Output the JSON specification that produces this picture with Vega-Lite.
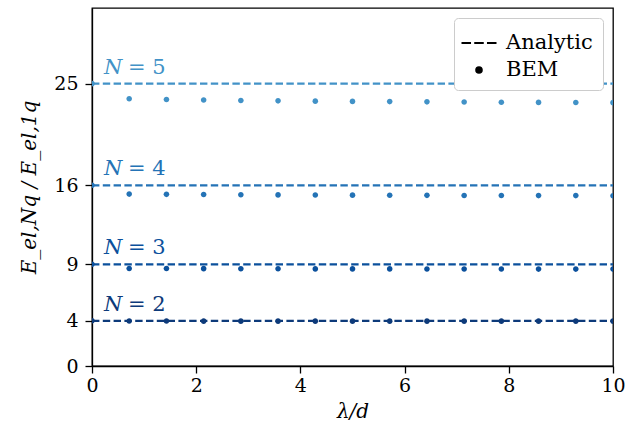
{
  "$schema": "https://vega.github.io/schema/vega-lite/v6.json",
  "width": 521,
  "height": 358,
  "autosize": {"type": "none"},
  "padding": {"left": 92, "top": 8, "right": 31, "bottom": 77},
  "background": "white",
  "config": {
    "font": "DejaVu Serif",
    "view": {"stroke": "black", "strokeWidth": 1.3},
    "text": {"font": "DejaVu Serif"},
    "axis": {
      "grid": false,
      "domainColor": "black",
      "domainWidth": 1.3,
      "tickColor": "black",
      "tickWidth": 1.3,
      "tickSize": 7,
      "labelFont": "DejaVu Serif",
      "labelFontSize": 19,
      "labelColor": "black",
      "titleFont": "DejaVu Serif",
      "titleFontSize": 20,
      "titleFontWeight": "normal",
      "titleColor": "black"
    }
  },
  "datasets": {
    "analytic": [
      {"N": "2", "value": 4, "eq": "= 2"},
      {"N": "3", "value": 9, "eq": "= 3"},
      {"N": "4", "value": 16, "eq": "= 4"},
      {"N": "5", "value": 25, "eq": "= 5"}
    ],
    "bem": [
      {"N": "2", "method": "BEM", "x": 0, "E": 4},
      {"N": "2", "method": "BEM", "x": 0.714, "E": 3.98},
      {"N": "2", "method": "BEM", "x": 1.429, "E": 3.98},
      {"N": "2", "method": "BEM", "x": 2.143, "E": 3.97},
      {"N": "2", "method": "BEM", "x": 2.857, "E": 3.97},
      {"N": "2", "method": "BEM", "x": 3.571, "E": 3.97},
      {"N": "2", "method": "BEM", "x": 4.286, "E": 3.97},
      {"N": "2", "method": "BEM", "x": 5, "E": 3.97},
      {"N": "2", "method": "BEM", "x": 5.714, "E": 3.97},
      {"N": "2", "method": "BEM", "x": 6.429, "E": 3.97},
      {"N": "2", "method": "BEM", "x": 7.143, "E": 3.97},
      {"N": "2", "method": "BEM", "x": 7.857, "E": 3.97},
      {"N": "2", "method": "BEM", "x": 8.571, "E": 3.97},
      {"N": "2", "method": "BEM", "x": 9.286, "E": 3.97},
      {"N": "2", "method": "BEM", "x": 10, "E": 3.97},
      {"N": "3", "method": "BEM", "x": 0, "E": 9},
      {"N": "3", "method": "BEM", "x": 0.714, "E": 8.64},
      {"N": "3", "method": "BEM", "x": 1.429, "E": 8.63},
      {"N": "3", "method": "BEM", "x": 2.143, "E": 8.62},
      {"N": "3", "method": "BEM", "x": 2.857, "E": 8.61},
      {"N": "3", "method": "BEM", "x": 3.571, "E": 8.61},
      {"N": "3", "method": "BEM", "x": 4.286, "E": 8.6},
      {"N": "3", "method": "BEM", "x": 5, "E": 8.6},
      {"N": "3", "method": "BEM", "x": 5.714, "E": 8.6},
      {"N": "3", "method": "BEM", "x": 6.429, "E": 8.59},
      {"N": "3", "method": "BEM", "x": 7.143, "E": 8.59},
      {"N": "3", "method": "BEM", "x": 7.857, "E": 8.59},
      {"N": "3", "method": "BEM", "x": 8.571, "E": 8.58},
      {"N": "3", "method": "BEM", "x": 9.286, "E": 8.58},
      {"N": "3", "method": "BEM", "x": 10, "E": 8.58},
      {"N": "4", "method": "BEM", "x": 0, "E": 16},
      {"N": "4", "method": "BEM", "x": 0.714, "E": 15.22},
      {"N": "4", "method": "BEM", "x": 1.429, "E": 15.2},
      {"N": "4", "method": "BEM", "x": 2.143, "E": 15.18},
      {"N": "4", "method": "BEM", "x": 2.857, "E": 15.16},
      {"N": "4", "method": "BEM", "x": 3.571, "E": 15.15},
      {"N": "4", "method": "BEM", "x": 4.286, "E": 15.14},
      {"N": "4", "method": "BEM", "x": 5, "E": 15.13},
      {"N": "4", "method": "BEM", "x": 5.714, "E": 15.12},
      {"N": "4", "method": "BEM", "x": 6.429, "E": 15.11},
      {"N": "4", "method": "BEM", "x": 7.143, "E": 15.1},
      {"N": "4", "method": "BEM", "x": 7.857, "E": 15.1},
      {"N": "4", "method": "BEM", "x": 8.571, "E": 15.09},
      {"N": "4", "method": "BEM", "x": 9.286, "E": 15.09},
      {"N": "4", "method": "BEM", "x": 10, "E": 15.08},
      {"N": "5", "method": "BEM", "x": 0, "E": 25},
      {"N": "5", "method": "BEM", "x": 0.714, "E": 23.66},
      {"N": "5", "method": "BEM", "x": 1.429, "E": 23.6},
      {"N": "5", "method": "BEM", "x": 2.143, "E": 23.55},
      {"N": "5", "method": "BEM", "x": 2.857, "E": 23.51},
      {"N": "5", "method": "BEM", "x": 3.571, "E": 23.48},
      {"N": "5", "method": "BEM", "x": 4.286, "E": 23.45},
      {"N": "5", "method": "BEM", "x": 5, "E": 23.43},
      {"N": "5", "method": "BEM", "x": 5.714, "E": 23.41},
      {"N": "5", "method": "BEM", "x": 6.429, "E": 23.39},
      {"N": "5", "method": "BEM", "x": 7.143, "E": 23.37},
      {"N": "5", "method": "BEM", "x": 7.857, "E": 23.36},
      {"N": "5", "method": "BEM", "x": 8.571, "E": 23.34},
      {"N": "5", "method": "BEM", "x": 9.286, "E": 23.33},
      {"N": "5", "method": "BEM", "x": 10, "E": 23.32}
    ]
  },
  "layer": [
    {
      "data": {"name": "analytic"},
      "mark": {"type": "rule", "strokeWidth": 2.2, "strokeDash": [7.4, 3.4]},
      "encoding": {
        "x": {"datum": 0, "type": "quantitative", "scale": {"domain": [0, 10], "nice": false, "zero": false},
          "axis": {"values": [0, 2, 4, 6, 8, 10], "title": "λ/d", "titleFontStyle": "italic", "labelPadding": 3, "titlePadding": 6, "labelFlush": false}},
        "x2": {"datum": 10},
        "y": {"field": "value", "type": "quantitative", "scale": {"domain": [0, 31.7], "nice": false, "zero": false},
          "axis": {"values": [0, 4, 9, 16, 25], "title": "E_el,Nq / E_el,1q", "titleFontStyle": "italic", "labelPadding": 7, "titlePadding": 14, "labelFlush": false}},
        "color": {"field": "N", "type": "nominal", "scale": {"domain": ["2", "3", "4", "5"], "range": ["#0d3a7a", "#0b509c", "#2473b6", "#4292c7"]}, "legend": null}
      }
    },
    {
      "data": {"name": "analytic"},
      "mark": {"type": "text", "fontStyle": "italic", "fontSize": 21, "align": "left", "baseline": "alphabetic", "dy": -10},
      "encoding": {
        "x": {"datum": 0.23, "type": "quantitative"},
        "y": {"field": "value", "type": "quantitative"},
        "text": {"value": "N"},
        "color": {"field": "N", "type": "nominal", "legend": null}
      }
    },
    {
      "data": {"name": "analytic"},
      "mark": {"type": "text", "fontSize": 21, "align": "left", "baseline": "alphabetic", "dx": 24, "dy": -10},
      "encoding": {
        "x": {"datum": 0.23, "type": "quantitative"},
        "y": {"field": "value", "type": "quantitative"},
        "text": {"field": "eq"},
        "color": {"field": "N", "type": "nominal", "legend": null}
      }
    },
    {
      "data": {"name": "bem"},
      "mark": {"type": "point", "filled": true, "size": 784, "opacity": 1, "clip": true},
      "encoding": {
        "x": {"field": "x", "type": "quantitative"},
        "y": {"field": "E", "type": "quantitative"},
        "color": {"field": "N", "type": "nominal", "legend": null},
        "shape": {
          "field": "method", "type": "nominal",
          "scale": {"domain": ["Analytic", "BEM"], "range": ["M-1.25,0H-0.57M-0.34,0H0.34M0.57,0H1.25", "M-0.2,0A0.2,0.2,0,1,0,0.2,0A0.2,0.2,0,1,0,-0.2,0Z"]},
          "legend": {
            "title": null,
            "orient": "top-right",
            "offset": 10,
            "padding": 10,
            "fillColor": "white",
            "strokeColor": "#cccccc",
            "cornerRadius": 4,
            "symbolSize": 784,
            "symbolFillColor": "black",
            "symbolStrokeColor": "black",
            "symbolStrokeWidth": 2,
            "labelFont": "DejaVu Serif",
            "labelFontSize": 21,
            "labelColor": "black",
            "labelOffset": 12,
            "rowPadding": 2,
            "encode": {
              "symbols": {
                "update": {
                  "fill": {"value": "black"},
                  "stroke": {"value": "black"},
                  "strokeWidth": {"value": 2},
                  "opacity": {"value": 1}
                }
              }
            }
          }
        }
      }
    }
  ]
}
